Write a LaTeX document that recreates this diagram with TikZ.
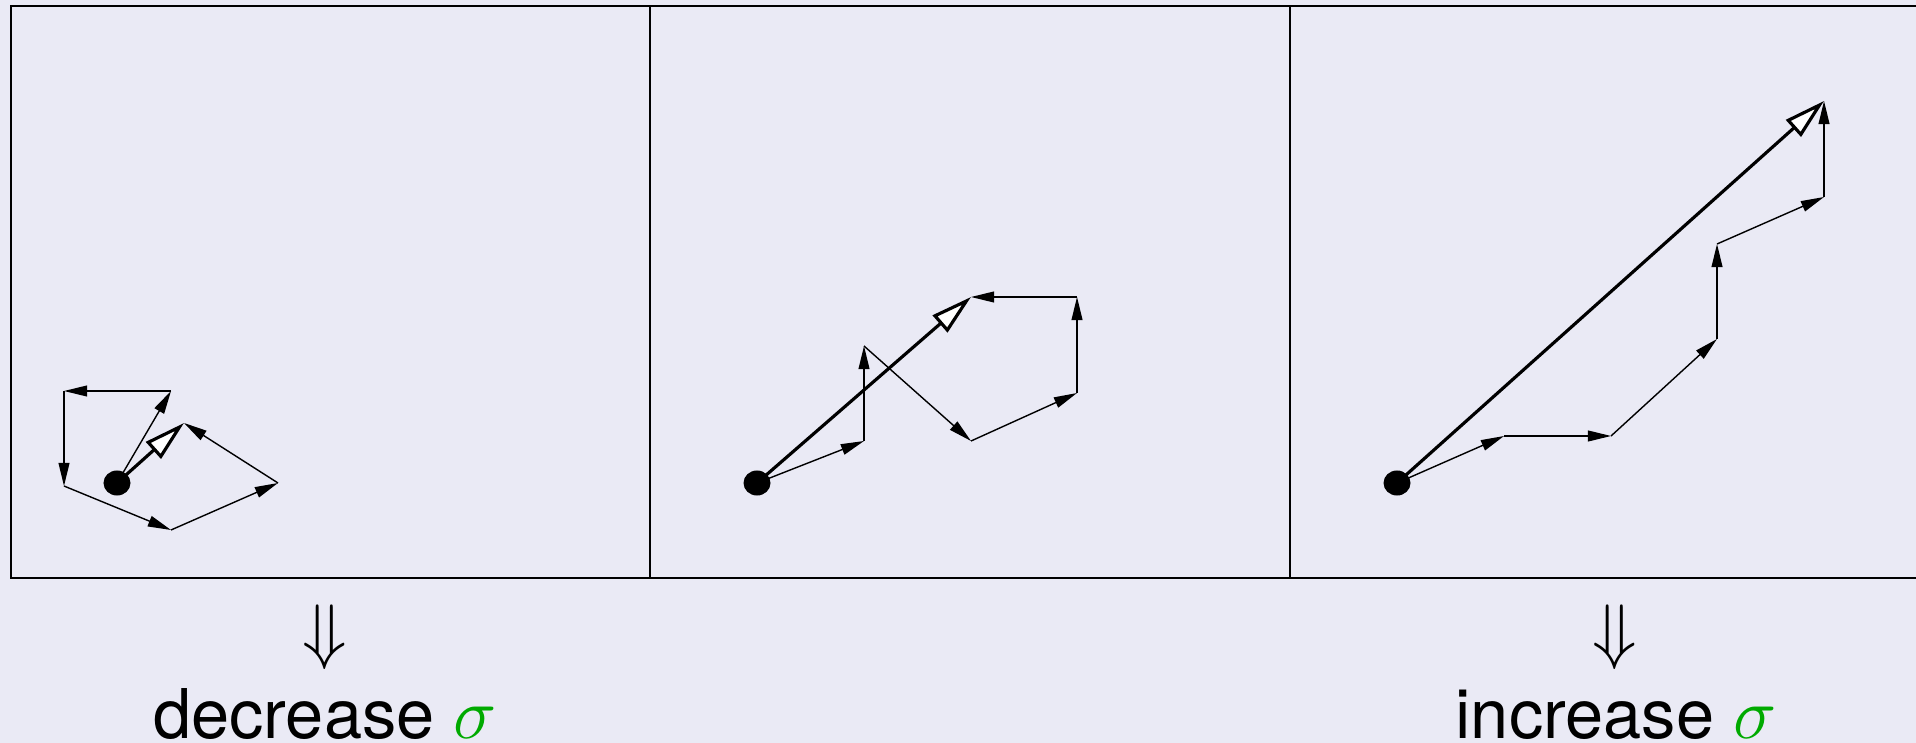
\documentclass[tikz,border=0pt]{standalone}
\usepackage{fontspec}
\setmainfont{TeX Gyre Heros}
\usetikzlibrary{arrows.meta,shapes.geometric}
\definecolor{bgcol}{RGB}{234,234,245}
\definecolor{sigmagreen}{RGB}{0,170,0}
\begin{document}
\begin{tikzpicture}[x=0.01cm,y=-0.01cm,
  steparrow/.style={line width=0.4pt, -{Triangle[length=6.6pt,width=3.1pt]}},
  resultant/.style={line width=0.9pt, -{Triangle[length=11.7pt,width=6.3pt,fill=white,line width=0.9pt]}},
  startdot/.style={ellipse, fill=black, inner sep=0pt, minimum width=0.27cm, minimum height=0.25cm},
  framestyle/.style={line width=0.45pt},
  lbl/.style={font=\fontsize{19.5}{23}\selectfont, inner sep=0pt}]
\useasboundingbox (0,0) rectangle (1916,743);
\clip (0,0) rectangle (1916,743);
\fill[bgcol] (0,0) rectangle (1916,743);
% frame
\draw[framestyle] (11,6) rectangle (1930,578);
\draw[framestyle] (650,6) -- (650,578);
\draw[framestyle] (1290,6) -- (1290,578);
% panel 1
\coordinate (d1) at (117,483);
\coordinate (a1) at (171,391);
\coordinate (a2) at (64,391);
\coordinate (a3) at (64,486);
\coordinate (a4) at (171,530);
\coordinate (a5) at (278,483);
\coordinate (a6) at (184,423);
\draw[steparrow] (d1) -- (a1);
\draw[steparrow] (a1) -- (a2);
\draw[steparrow] (a2) -- (a3);
\draw[steparrow] (a3) -- (a4);
\draw[steparrow] (a4) -- (a5);
\draw[steparrow] (a5) -- (a6);
\draw[resultant] (d1) -- (a6);
\node[startdot] (dot1) at (d1) {};
% panel 2
\coordinate (d2) at (757,483);
\coordinate (b1) at (864,441);
\coordinate (b2) at (864,346);
\coordinate (b3) at (971,441);
\coordinate (b4) at (1077,393);
\coordinate (b5) at (1077,297);
\coordinate (b6) at (971,297);
\draw[steparrow] (d2) -- (b1);
\draw[steparrow] (b1) -- (b2);
\draw[steparrow] (b2) -- (b3);
\draw[steparrow] (b3) -- (b4);
\draw[steparrow] (b4) -- (b5);
\draw[steparrow] (b5) -- (b6);
\draw[resultant] (d2) -- (b6);
\node[startdot] (dot2) at (d2) {};
% panel 3
\coordinate (d3) at (1397,483);
\coordinate (c1) at (1504,436);
\coordinate (c2) at (1611,436);
\coordinate (c3) at (1717,339);
\coordinate (c4) at (1717,244);
\coordinate (c5) at (1824,197);
\coordinate (c6) at (1824,101);
\draw[steparrow] (d3) -- (c1);
\draw[steparrow] (c1) -- (c2);
\draw[steparrow] (c2) -- (c3);
\draw[steparrow] (c3) -- (c4);
\draw[steparrow] (c4) -- (c5);
\draw[steparrow] (c5) -- (c6);
\draw[resultant] (d3) -- (c6);
\node[startdot] (dot3) at (d3) {};
% labels
\node[lbl] (decarrow) at (325,637) {$\Downarrow$};
\node[lbl, anchor=base] (dectext) at (325,738) {decrease \textcolor{sigmagreen}{$\sigma$}};
\node[lbl] (incarrow) at (1615,637) {$\Downarrow$};
\node[lbl, anchor=base] (inctext) at (1616,738) {increase \textcolor{sigmagreen}{$\sigma$}};
\end{tikzpicture}
\end{document}
